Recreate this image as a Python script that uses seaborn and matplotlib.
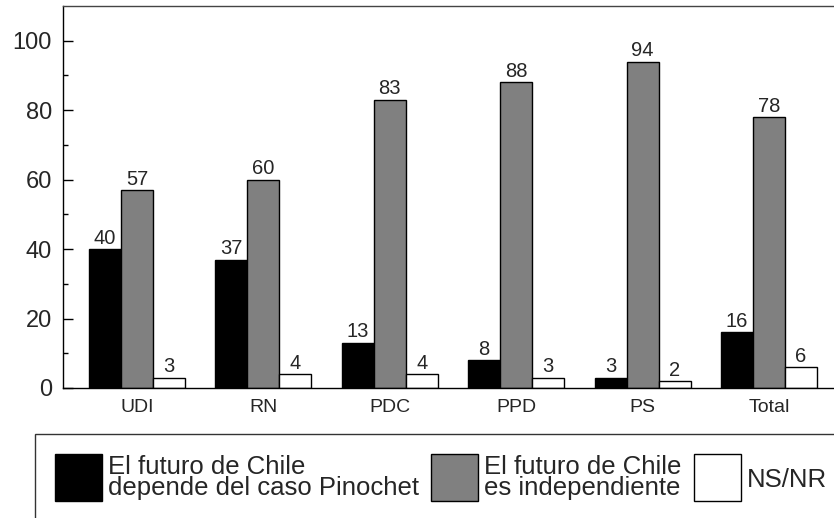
import matplotlib.pyplot as plt
import matplotlib as mpl
import numpy as np
import pandas as pd
import seaborn as sns

partidos = ['UDI', 'RN', 'PDC', 'PPD', 'PS', 'Total']
depende = [40, 37, 13, 8, 3, 16]
independiente = [57, 60, 83, 88, 94, 78]
nsnr = [3, 4, 4, 3, 2, 6]
series = ['El futuro de Chile\ndepende del caso Pinochet',
          'El futuro de Chile\nes independiente',
          'NS/NR']
colores = ['#000000', '#808080', '#ffffff']

df = pd.DataFrame({
    'partido': partidos * 3,
    'valor': depende + independiente + nsnr,
    'serie': [series[0]] * 6 + [series[1]] * 6 + [series[2]] * 6,
})

sns.set_style('white')
plt.rcParams['font.family'] = ['Liberation Sans', 'DejaVu Sans']

fig = plt.figure(figsize=(8.34, 5.18), dpi=100)
ax = fig.add_axes([63 / 834, 1 - 388 / 518, (843 - 63) / 834, (388 - 6) / 518])

sns.barplot(data=df, x='partido', y='valor', hue='serie', palette=colores,
            width=0.76, gap=0, edgecolor='black', linewidth=1, ax=ax,
            legend=False)

for cont in ax.containers:
    ax.bar_label(cont, fontsize=14.5, padding=1)

ax.set_xlim(-0.585, 5.585)
ax.set_ylim(0, 110)
ax.set_yticks(np.arange(0, 101, 20))
ax.set_yticks(np.arange(10, 101, 20), minor=True)
ax.set_xlabel('')
ax.set_ylabel('')
ax.tick_params(axis='y', which='major', direction='in', length=7.2, width=1,
               labelsize=17, pad=8, left=True, color='black')
ax.tick_params(axis='y', which='minor', direction='in', length=3.6, width=1,
               left=True, color='black')
ax.tick_params(axis='x', direction='in', length=7.2, width=1, labelsize=14,
               pad=8, bottom=True, color='black')
for s in ax.spines.values():
    s.set_color('black')
    s.set_linewidth(1)
ax.spines['top'].set_color('#444444')

# caja de la leyenda (se corta en el borde)
caja = mpl.patches.Rectangle((35 / 834, -0.05), 1.0, 1 - 434 / 518 + 0.05,
                             transform=fig.transFigure, fill=False,
                             edgecolor='#333333', linewidth=1)
fig.patches.append(caja)

handles = [mpl.patches.Patch(facecolor=c, edgecolor='black', linewidth=1)
           for c in colores]
leg = fig.legend(handles, series, loc='center left', ncol=3,
                 bbox_to_anchor=(55 / 834, 1 - 477.5 / 518), frameon=False,
                 fontsize=18.5, handlelength=1.83, handleheight=1.83,
                 handletextpad=0.24, columnspacing=0.47, borderaxespad=0,
                 borderpad=0)
for t in leg.get_texts():
    t.set_linespacing(0.85)
for h in leg.legend_handles:
    h.set_height(47 / 100 * 72)
    h.set_y(-10.3)

plt.savefig('out.png', dpi=100)
